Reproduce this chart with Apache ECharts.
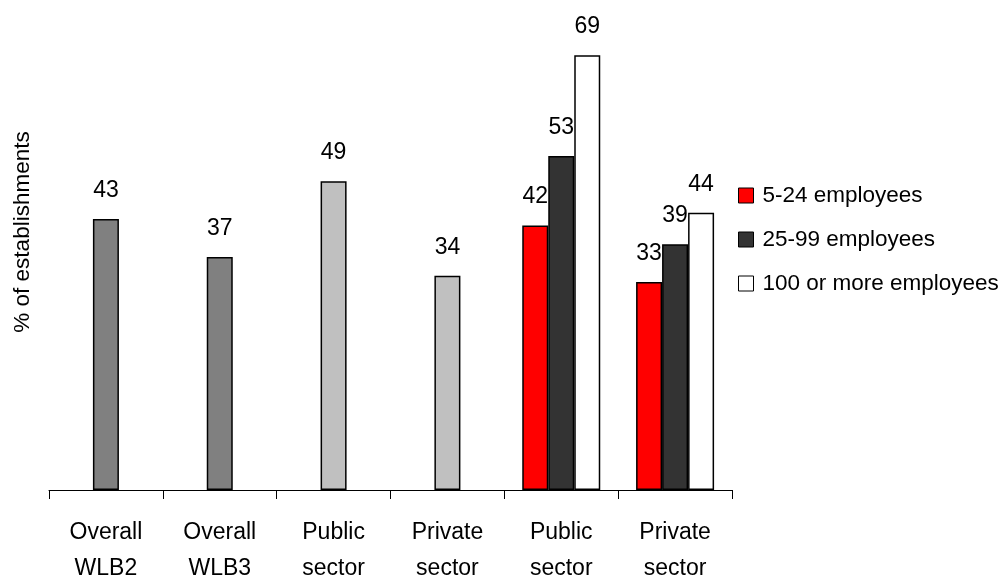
<!DOCTYPE html>
<html>
<head>
<meta charset="utf-8">
<script src="https://cdn.jsdelivr.net/npm/echarts@6/dist/echarts.min.js"></script>
<style>
  html, body { margin: 0; padding: 0; background: #fff; }
  #chart { width: 1004px; height: 579px; }
</style>
</head>
<body>
<div id="chart"></div>
<script>
// Categories along the x axis (two-line labels)
const categories = ['Overall\nWLB2', 'Overall\nWLB3', 'Public\nsector', 'Private\nsector', 'Public\nsector', 'Private\nsector'];

// Series names shown in the legend
const seriesNames = ['5-24 employees', '25-99 employees', '100 or more employees'];

// % of establishments by establishment size
const small = [null, null, null, null, 42, 33];
const medium = [43, 37, 49, 34, 53, 39];   // first four columns are the overall / sector totals
const large = [null, null, null, null, 69, 44];

// Fill colours
const seriesColors = ['#ff0000', '#333333', '#ffffff'];
const middleColumnColors = ['#808080', '#808080', '#c0c0c0', '#c0c0c0', '#333333', '#333333'];

const FONT = '"Liberation Sans Narrow", "Arial Narrow", "Liberation Sans", Arial, sans-serif';

const labelStyle = {
  show: true,
  position: 'top',
  distance: 17,
  color: '#000',
  fontFamily: FONT,
  fontSize: 23,
  formatter: p => (p.value == null ? '' : p.value)
};

const barBase = {
  type: 'bar',
  barWidth: 26,
  barGap: '0%',
  label: labelStyle,
  emphasis: { disabled: true }
};

const chart = echarts.init(document.getElementById('chart'), null, { renderer: 'canvas' });

chart.setOption({
  animation: false,
  backgroundColor: '#fff',
  grid: { left: 49, right: 272, top: 49, bottom: 89, outerBoundsMode: 'none', containLabel: false },
  legend: {
    orient: 'vertical',
    left: 738,
    top: 184,
    padding: 0,
    itemWidth: 15,
    itemHeight: 15,
    itemGap: 21,
    icon: 'rect',
    textStyle: { fontFamily: FONT, fontSize: 22.5, color: '#000', padding: [0, 0, 0, 4] },
    data: seriesNames.map((n, i) => ({
      name: n,
      itemStyle: { color: seriesColors[i], borderColor: '#000', borderWidth: 1 }
    }))
  },
  xAxis: {
    type: 'category',
    data: categories,
    boundaryGap: true,
    axisLine: { lineStyle: { color: '#000', width: 1 } },
    axisTick: { show: true, length: 9, lineStyle: { color: '#000' } },
    axisLabel: {
      color: '#000',
      fontFamily: FONT,
      fontSize: 23,
      lineHeight: 36,
      margin: 25,
      interval: 0
    }
  },
  yAxis: {
    type: 'value',
    min: 0,
    max: 70,
    name: '% of establishments',
    nameLocation: 'middle',
    nameRotate: 90,
    nameGap: 15,
    nameTextStyle: { fontFamily: FONT, fontSize: 22.5, color: '#000', padding: [0, 0, 0, 75] },
    axisLine: { show: false },
    axisTick: { show: false },
    axisLabel: { show: false },
    splitLine: { show: false }
  },
  series: [
    Object.assign({}, barBase, {
      name: seriesNames[0],
      itemStyle: { color: seriesColors[0], borderColor: '#000', borderWidth: 1.5 },
      data: small
    }),
    Object.assign({}, barBase, {
      name: seriesNames[1],
      itemStyle: { color: seriesColors[1], borderColor: '#000', borderWidth: 1.5 },
      data: medium.map((v, i) => ({ value: v, itemStyle: { color: middleColumnColors[i] } }))
    }),
    Object.assign({}, barBase, {
      name: seriesNames[2],
      itemStyle: { color: seriesColors[2], borderColor: '#000', borderWidth: 1.5 },
      data: large
    })
  ]
});
</script>
</body>
</html>
